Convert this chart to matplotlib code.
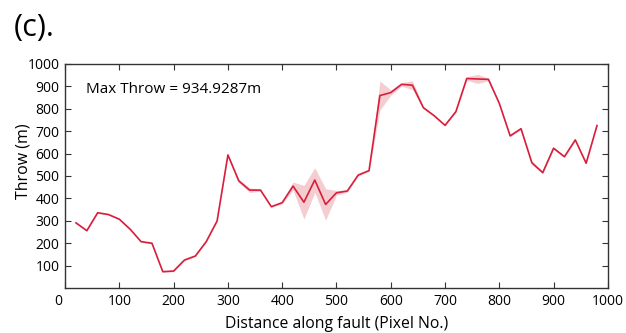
import matplotlib
matplotlib.use('Agg')
import matplotlib.pyplot as plt
from matplotlib.transforms import ScaledTranslation

# distance along fault (pixel no.)
distance = [20, 40, 60, 80, 100, 120, 140, 160, 180, 200,
            220, 240, 260, 280, 300, 320, 340, 360, 380, 400,
            420, 440, 460, 480, 500, 520, 540, 560, 580, 600,
            620, 640, 660, 680, 700, 720, 740, 760, 780, 800,
            820, 840, 860, 880, 900, 920, 940, 960, 980]
throw = [291, 256, 336, 328, 307, 262, 207, 200, 73, 76,
         125, 143, 207, 299, 594, 478, 437, 437, 363, 381,
         455, 383, 482, 373, 425, 433, 504, 524, 859, 872,
         909, 905, 805, 769, 726, 787, 934.9287, 933, 931, 824,
         679, 711, 559, 515, 624, 586, 661, 557, 725]
# half-width of the uncertainty envelope
spread = [3, 3, 3, 3, 3, 3, 3, 3, 3, 3,
          3, 3, 3, 3, 4, 8, 10, 5, 3, 5,
          18, 75, 55, 70, 10, 5, 4, 3, 65, 12,
          8, 20, 5, 4, 3, 4, 8, 20, 6, 4,
          4, 4, 8, 5, 6, 4, 4, 3, 3]

xticks = [0, 100, 200, 300, 400, 500, 600, 700, 800, 900, 1000]
yticks = [100, 200, 300, 400, 500, 600, 700, 800, 900, 1000]

plt.rcParams['font.family'] = ['Open Sans', 'DejaVu Sans']

fig = plt.figure(figsize=(6.26, 3.33), dpi=100)
ax = fig.add_axes([0.104, 0.135, 0.867, 0.673])

lower = [t - s for t, s in zip(throw, spread)]
upper = [t + s for t, s in zip(throw, spread)]
ax.fill_between(distance, lower, upper, color='#eeb8bd', alpha=0.7, linewidth=0)
ax.plot(distance, throw, color='#d81e3c', linewidth=1.2)

ax.set_xlim(0, 1000)
ax.set_ylim(0, 1000)
ax.set_xticks(xticks)
ax.set_yticks(yticks)
ax.tick_params(direction='in', top=True, right=True, length=4, width=0.8,
               labelsize=10, color='#333333', pad=4)
for sp in ax.spines.values():
    sp.set_color('#333333')
    sp.set_linewidth(1.0)

# the "0" sits a little left of the corner, as in the original
zero = ax.get_xticklabels()[0]
zero.set_transform(zero.get_transform() + ScaledTranslation(-7 / 100, 0, fig.dpi_scale_trans))

ax.set_xlabel('Distance along fault (Pixel No.)', fontsize=11.3, labelpad=5)
ax.set_ylabel('Throw (m)', fontsize=11.5)
ax.yaxis.set_label_coords(-0.061, 0.565)
ax.text(38, 885, 'Max Throw = 934.9287m', fontsize=11, va='center', ha='left')

fig.text(0.022, 0.915, '(c).', fontsize=22, va='center', ha='left')

fig.savefig('out.png', dpi=100)
